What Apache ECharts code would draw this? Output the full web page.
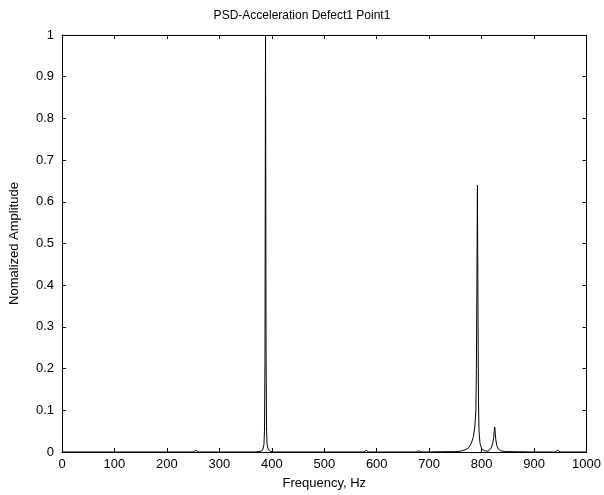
<!DOCTYPE html>
<html>
<head>
<meta charset="utf-8">
<script src="https://cdn.jsdelivr.net/npm/echarts@6/dist/echarts.min.js"></script>
<style>html,body{margin:0;padding:0;background:#fff}#c{width:604px;height:495px}</style>
</head>
<body>
<div id="c"></div>
<script>
var titleText = 'PSD-Acceleration Defect1 Point1';
var xName = 'Frequency, Hz';
var yName = 'Nomalized Amplitude';
var freq = [0, 100, 200, 250, 255, 260, 300, 370, 380, 383, 385, 386, 387, 388, 389, 390, 391, 393, 396, 405, 500, 575, 580, 585, 675, 680, 685, 750, 760, 770, 775, 780, 784, 787, 789, 790, 791, 792, 793, 794, 795, 797, 800, 805, 812, 816, 819, 821, 823, 824, 825, 826, 827, 829, 832, 836, 845, 900, 940, 945, 950, 1000];
var amp  = [0, 0, 0, 0, 0.004, 0, 0, 0, 0.002, 0.007, 0.018, 0.05, 0.22, 1.0, 0.25, 0.05, 0.018, 0.007, 0.002, 0, 0, 0, 0.004, 0, 0, 0.003, 0, 0.001, 0.002, 0.006, 0.01, 0.02, 0.035, 0.06, 0.1, 0.2, 0.4, 0.64, 0.35, 0.12, 0.05, 0.02, 0.008, 0.003, 0.002, 0.006, 0.012, 0.02, 0.035, 0.05, 0.06, 0.045, 0.03, 0.015, 0.007, 0.003, 0.001, 0, 0, 0.004, 0, 0];
var pts = freq.map(function (f, i) { return [f, amp[i]]; });

var font = 'Liberation Sans, Arial, sans-serif';
var chart = echarts.init(document.getElementById('c'));
var tickStyle = { show: true, inside: true, length: 4, lineStyle: { color: '#000', width: 1 } };
var lineStyle = { show: true, onZero: false, lineStyle: { color: '#000', width: 1 } };
chart.setOption({
  animation: false,
  backgroundColor: '#fff',
  title: { text: titleText, left: 'center', top: 5, textStyle: { fontFamily: font, fontSize: 12, fontWeight: 'normal', color: '#000' } },
  grid: { left: 62, right: 17, top: 35, bottom: 43, containLabel: false },
  xAxis: [
    { type: 'value', min: 0, max: 1000, interval: 100, name: xName, nameLocation: 'middle', nameGap: 25,
      nameTextStyle: { fontFamily: font, fontSize: 13, color: '#000' },
      axisLine: lineStyle, axisTick: tickStyle,
      axisLabel: { fontFamily: font, fontSize: 13, color: '#000', margin: 6, formatter: function (v) { return String(v); } },
      splitLine: { show: false } },
    { type: 'value', min: 0, max: 1000, interval: 100, position: 'top',
      axisLine: lineStyle, axisTick: tickStyle,
      axisLabel: { show: false }, splitLine: { show: false } }
  ],
  yAxis: [
    { type: 'value', min: 0, max: 1, interval: 0.1, name: yName, nameLocation: 'middle', nameGap: 41,
      nameTextStyle: { fontFamily: font, fontSize: 13, color: '#000' },
      axisLine: lineStyle, axisTick: tickStyle,
      axisLabel: { fontFamily: font, fontSize: 13, color: '#000', margin: 8 }, splitLine: { show: false } },
    { type: 'value', min: 0, max: 1, interval: 0.1, position: 'right',
      axisLine: lineStyle, axisTick: tickStyle,
      axisLabel: { show: false }, splitLine: { show: false } }
  ],
  series: [{
    type: 'line', data: pts, showSymbol: false, symbol: 'none',
    lineStyle: { color: '#000', width: 1 }, clip: true
  }]
});
</script>
</body>
</html>
